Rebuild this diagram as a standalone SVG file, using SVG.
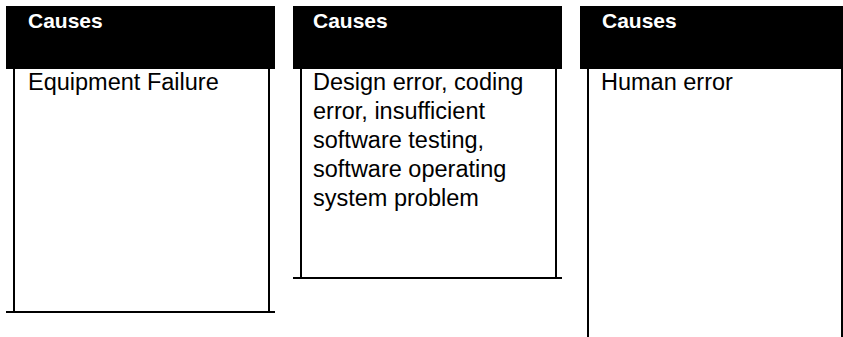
<svg xmlns="http://www.w3.org/2000/svg" width="843" height="337" viewBox="0 0 843 337">
  <style>
    .hdr { fill: #000; }
    .rule { stroke: #000; stroke-width: 2; fill: none; }
    .title { font-family: "Liberation Sans", Arial, sans-serif; font-weight: bold; font-size: 21px; fill: #fff; }
    .body { font-family: "Liberation Sans", Arial, sans-serif; font-size: 23.5px; fill: #000; }
  </style>
  <rect width="843" height="337" fill="#fff"/>

  <!-- column 1 -->
  <g id="causes-equipment">
    <rect class="hdr" x="6" y="6" width="269" height="63"/>
    <text class="title" x="28" y="28">Causes</text>
    <path class="rule" d="M14 69 V312 M269 69 V312 M6 312 H275"/>
    <text class="body" x="28" y="90">Equipment Failure</text>
  </g>

  <!-- column 2 -->
  <g id="causes-software">
    <rect class="hdr" x="293" y="6" width="269" height="63"/>
    <text class="title" x="313" y="28">Causes</text>
    <path class="rule" d="M301 69 V278 M556 69 V278 M293 278 H562"/>
    <text class="body" x="313" y="90">
      <tspan x="313" y="90">Design error, coding</tspan>
      <tspan x="313" y="119">error, insufficient</tspan>
      <tspan x="313" y="148">software testing,</tspan>
      <tspan x="313" y="177">software operating</tspan>
      <tspan x="313" y="206">system problem</tspan>
    </text>
  </g>

  <!-- column 3 -->
  <g id="causes-human">
    <rect class="hdr" x="580" y="6" width="263" height="63"/>
    <text class="title" x="602" y="28">Causes</text>
    <path class="rule" d="M588 69 V337 M842 69 V337"/>
    <text class="body" x="601" y="90">Human error</text>
  </g>

  <g id="connectors"/>
</svg>
